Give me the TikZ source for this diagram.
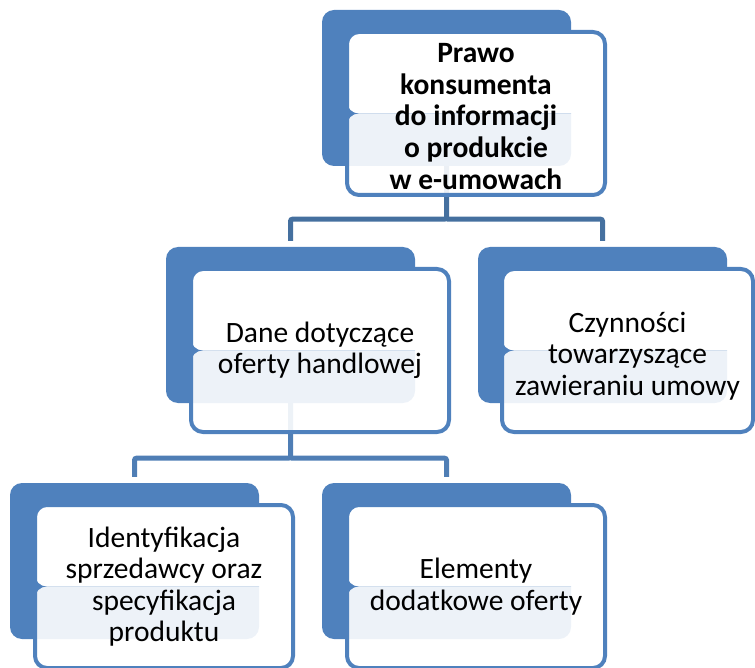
\documentclass[tikz,border=0pt]{standalone}
\usepackage{fontspec}
\setmainfont{Carlito}
\usetikzlibrary{calc}

\definecolor{boxblue}{HTML}{4F81BD}
\definecolor{linkblue}{HTML}{45709F}
\definecolor{linkblue2}{HTML}{4F7EB5}

\tikzset{
  backbox/.style={rectangle, rounded corners=12pt, fill=boxblue, draw=none,
    minimum width=249pt, minimum height=156pt, inner sep=0pt},
  frontbox/.style={rectangle, rounded corners=12pt, draw=boxblue, line width=4pt,
    minimum width=258pt, minimum height=163pt, inner sep=1pt, align=center,
    font=\fontsize{29.5}{31.5}\selectfont,
    % upper half is opaque white, lower half lets the shape behind show through
    path picture={
      \fill[white] (path picture bounding box.north west) rectangle (path picture bounding box.east);
      \fill[white, opacity=0.9] (path picture bounding box.west) rectangle (path picture bounding box.south east);
    }},
  link/.style={draw=linkblue, line width=5pt, rounded corners=2pt},
  link2/.style={draw=linkblue2, line width=5pt, rounded corners=2pt},
}

\begin{document}
\begin{tikzpicture}[x=1pt, y=-1pt]
\useasboundingbox (0,0) rectangle (755,668);

% back panels
\node[backbox] (b1) at (446.5,88) {};
\node[backbox] (b2) at (290.5,325) {};
\node[backbox] (b3) at (602.5,325) {};
\node[backbox] (b4) at (134.5,561) {};
\node[backbox] (b5) at (446.5,561) {};

% hierarchy connectors
\coordinate (j1) at ($(b1.south) + (0,53)$);
\draw[link] (b1.south) -- (j1) -| ([yshift=6pt]b2.north);
\draw[link] (j1) -| ([yshift=6pt]b3.north);
\coordinate (j2) at ($(b2.south) + (0,55)$);
\draw[link2] (b2.south) -- (j2) -| ([yshift=6pt]b4.north);
\draw[link2] (j2) -| ([yshift=6pt]b5.north);

% front panels with text (struts on the first line push the text block down a little)
\node[frontbox, font=\bfseries\fontsize{29.5}{31.6}\selectfont] (f1) at (476,113.5)
  {\rule{0pt}{25pt}Prawo\\konsumenta\\do informacji\\o produkcie\\w e-umowach};
\node[frontbox] (f2) at (320,350.5) {Dane dotyczące\\oferty handlowej};
\node[frontbox, minimum width=251pt] (f3) at (627.5,350.5)
  {\rule{0pt}{31pt}Czynności\\towarzyszące\\zawieraniu umowy};
\node[frontbox] (f4) at (164,586.5)
  {Identyfikacja\\sprzedawcy oraz\\specyfikacja\\produktu};
\node[frontbox] (f5) at (476,586.5) {Elementy\\dodatkowe oferty};
\end{tikzpicture}
\end{document}
